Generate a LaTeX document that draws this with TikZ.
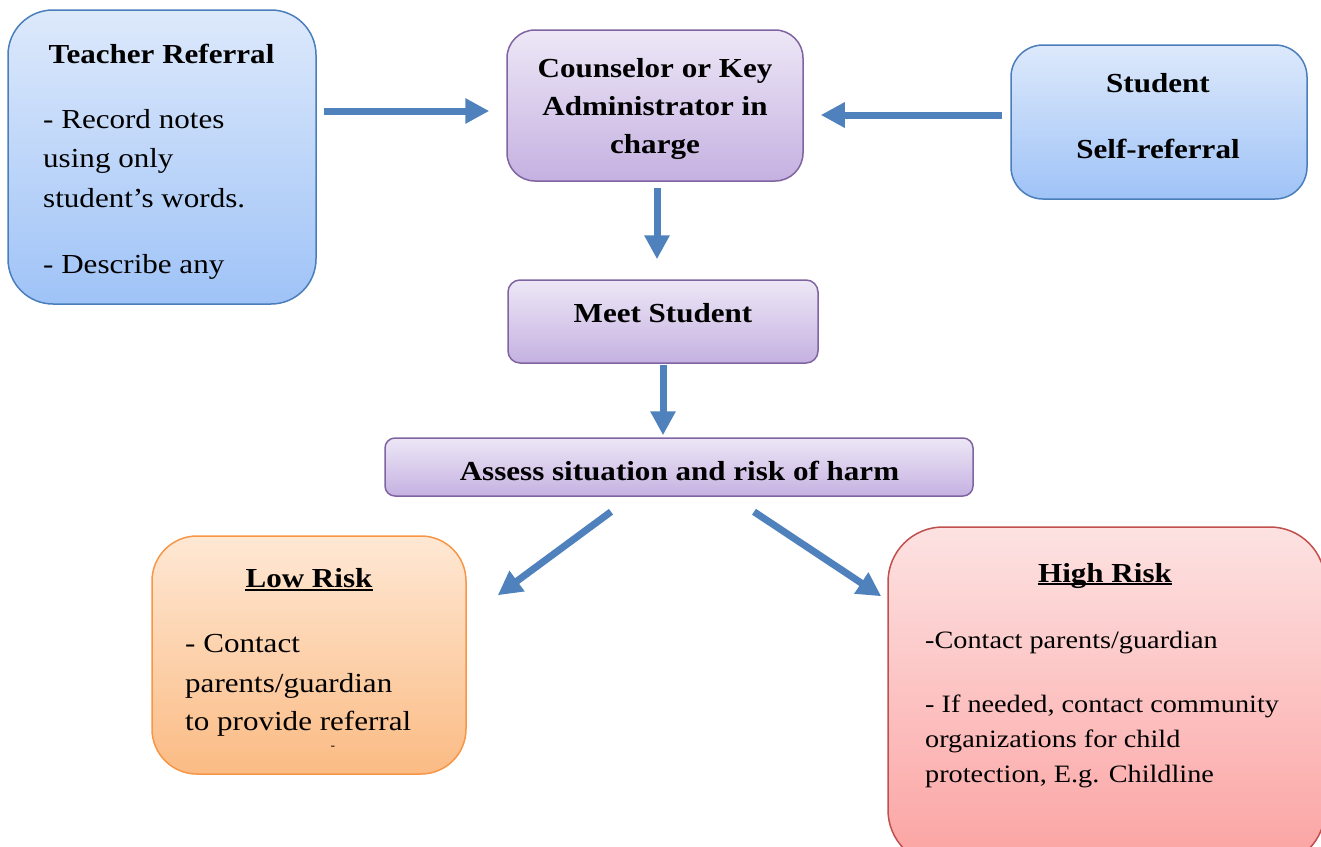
\documentclass[tikz,border=0pt]{standalone}
\usepackage{fontspec}
\setmainfont{Liberation Serif}[FakeStretch=1.13]
\usetikzlibrary{arrows.meta}
\definecolor{bluetop}{HTML}{DDE9FB}
\definecolor{bluebot}{HTML}{9FC3F7}
\definecolor{blueline}{HTML}{4A7EBB}
\definecolor{purtop}{HTML}{EDE7F6}
\definecolor{purbot}{HTML}{C5B1E1}
\definecolor{purline}{HTML}{8064A2}
\definecolor{ortop}{HTML}{FEE8D4}
\definecolor{orbot}{HTML}{FBBB84}
\definecolor{orline}{HTML}{F79646}
\definecolor{redtop}{HTML}{FDE2E2}
\definecolor{redbot}{HTML}{FBA3A2}
\definecolor{redline}{HTML}{C0504D}
\definecolor{arrowblue}{HTML}{4F81BD}
\begin{document}
\begin{tikzpicture}[x=1pt,y=-1pt,
  box/.style={draw, line width=1.5pt, inner sep=0pt},
  bluebox/.style={box, draw=blueline, top color=bluetop, bottom color=bluebot},
  purbox/.style={box, draw=purline, top color=purtop, bottom color=purbot},
  orbox/.style={box, draw=orline, top color=ortop, bottom color=orbot},
  redbox/.style={box, draw=redline, top color=redtop, bottom color=redbot},
  arr/.style={draw=arrowblue, line width=7pt, -{Triangle[length=24pt,width=24pt]}},
  ttl/.style={inner sep=0pt, anchor=base, font=\fontsize{27.5}{30}\selectfont\bfseries},
  bod/.style={inner sep=0pt, anchor=base west, font=\fontsize{27.5}{30}\selectfont},
  bods/.style={inner sep=0pt, anchor=base west, font=\fontsize{25}{28}\selectfont},
  uline/.style={line width=1.5pt}
]
\useasboundingbox (0,0) rectangle (1321,846);

% boxes
\node[bluebox, rounded corners=45pt, minimum width=308pt, minimum height=294pt] (teacher) at (162,157) {};
\node[purbox, rounded corners=28pt, minimum width=296pt, minimum height=151pt] (counselor) at (655,105.5) {};
\node[bluebox, rounded corners=32pt, minimum width=296pt, minimum height=154pt] (student) at (1159,122) {};
\node[purbox, rounded corners=12pt, minimum width=310pt, minimum height=83pt] (meet) at (663,321.5) {};
\node[purbox, rounded corners=10pt, minimum width=588pt, minimum height=58pt] (assess) at (679,467) {};
\node[orbox, rounded corners=45pt, minimum width=314pt, minimum height=238pt] (low) at (309,655) {};
\node[redbox, rounded corners=55pt, minimum width=437pt, minimum height=338pt] (high) at (1106.5,696) {};

% texts
\node[ttl] (tT) at (161.5,63) {Teacher Referral};
\node[bod] (tB1) at (43,128) {- Record notes};
\node[bod] (tB2) at (43,167) {using only};
\node[bod] (tB3) at (43,207) {student’s words.};
\node[bod] (tB4) at (43,273) {- Describe any};

\node[ttl] (cT1) at (655,77) {Counselor or Key};
\node[ttl] (cT2) at (655,115) {Administrator in};
\node[ttl] (cT3) at (655,153) {charge};

\node[ttl] (sT1) at (1158,92) {Student};
\node[ttl] (sT2) at (1158,158) {Self-referral};

\node[ttl] (mT) at (663,322) {Meet Student};
\node[ttl] (aT) at (679.5,480) {Assess situation and risk of harm};

\node[ttl] (lT) at (309,587) {Low Risk};
\draw[uline] ([yshift=-3pt]lT.base west) -- ([yshift=-3pt]lT.base east);
\node[bod] (lB1) at (185,652) {- Contact};
\node[bod] (lB2) at (185,692) {parents/guardian};
\node[bod] (lB3) at (185,730) {to provide referral};
\node[inner sep=0pt, font=\fontsize{12}{12}\selectfont] (lB4) at (333,748) {-};

\node[ttl] (hT) at (1105,582) {High Risk};
\draw[uline] ([yshift=-2pt]hT.base west) -- ([yshift=-2pt]hT.base east);
\node[bods] (hB1) at (925,648) {-Contact parents/guardian};
\node[bods] (hB2) at (925,712) {- If needed, contact community};
\node[bods] (hB3) at (925,747) {organizations for child};
\node[bods] (hB4) at (925,782) {protection, E.g. Childline};

% arrows
\draw[arr, shorten <=7pt, shorten >=17pt] ([yshift=46pt]teacher.east) -- ([yshift=-5.5pt]counselor.west);
\draw[arr, shorten <=8pt, shorten >=17pt] ([yshift=7pt]student.west) -- ([yshift=-9.5pt]counselor.east);
\draw[arr, shorten <=6pt, shorten >=20pt] ([xshift=2pt]counselor.south) -- ([xshift=-6pt]meet.north);
\draw[arr, shorten <=1pt, shorten >=2pt] (meet.south) -- ([xshift=-16pt]assess.north);
\draw[arr] ([xshift=-68pt,yshift=-15pt]assess.south) -- ([xshift=31pt,yshift=-60pt]low.north east);
\draw[arr] ([xshift=75pt,yshift=-15pt]assess.south) -- ([xshift=-6pt,yshift=-70pt]high.north west);
\end{tikzpicture}
\end{document}
